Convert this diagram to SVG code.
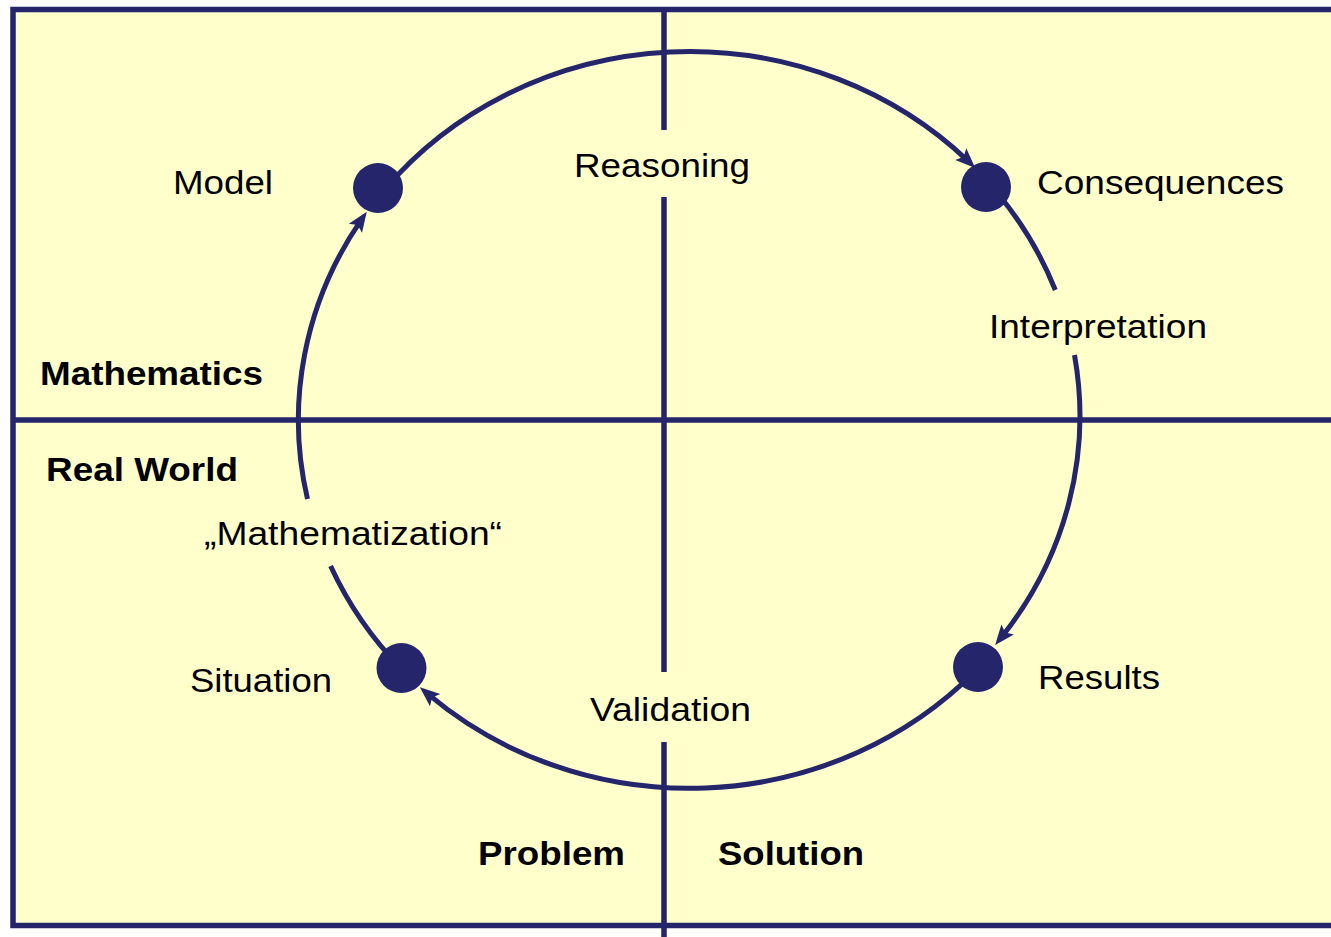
<svg xmlns="http://www.w3.org/2000/svg" width="1331" height="937" viewBox="0 0 1331 937">
  <style>
    .frame { fill: #FFFFCC; stroke: #25256B; stroke-width: 5.5; }
    .axis { stroke: #25256B; stroke-width: 5.5; fill: none; }
    .cycle { stroke: #25256B; stroke-width: 5; fill: none; }
    .dot { fill: #25256B; }
    text { font-family: "Liberation Sans", Arial, sans-serif; font-size: 34px; fill: #000; }
    .bold { font-weight: bold; }
  </style>
  <defs>
    <marker id="arrow" markerUnits="userSpaceOnUse" markerWidth="22" markerHeight="16" viewBox="0 0 22 16" refX="10" refY="8" orient="auto" overflow="visible">
      <path d="M0,0 L20,8 L0,16 L4,8 z" fill="#25256B"/>
    </marker>
  </defs>

  <!-- background panel and quadrant axes -->
  <g id="panel">
    <rect class="frame" x="13" y="9.5" width="1340" height="916"/>
    <line class="axis" x1="13" y1="420" x2="1331" y2="420"/>
    <line class="axis" x1="664" y1="9.5" x2="664" y2="130"/>
    <line class="axis" x1="664" y1="197" x2="664" y2="672"/>
    <line class="axis" x1="664" y1="742" x2="664" y2="937"/>
  </g>

  <!-- cycle connectors -->
  <g id="connectors">
    <path id="reasoning-arc" class="cycle" d="M385,189 A391,368 0 0 1 968,161" marker-end="url(#arrow)"/>
    <path id="interpretation-arc-a" class="cycle" d="M999,195 A391,368 0 0 1 1055.3,290"/>
    <path id="interpretation-arc-b" class="cycle" d="M1074.5,355 A391,368 0 0 1 1001.4,637.3" marker-end="url(#arrow)"/>
    <path id="validation-arc" class="cycle" d="M975,671.5 A391,368 0 0 1 427.5,693.7" marker-end="url(#arrow)"/>
    <path id="mathematization-arc-a" class="cycle" d="M402,669.4 A391,368 0 0 1 330.6,566"/>
    <path id="mathematization-arc-b" class="cycle" d="M307.5,499 A391,368 0 0 1 361.1,220.1" marker-end="url(#arrow)"/>
  </g>

  <!-- cycle nodes -->
  <g id="model">
    <circle class="dot" cx="378" cy="188" r="25"/>
    <text x="173" y="194" textLength="100" lengthAdjust="spacingAndGlyphs">Model</text>
  </g>
  <g id="consequences">
    <circle class="dot" cx="986" cy="187" r="25"/>
    <text x="1037" y="194" textLength="247" lengthAdjust="spacingAndGlyphs">Consequences</text>
  </g>
  <g id="results">
    <circle class="dot" cx="978" cy="667" r="25"/>
    <text x="1038" y="689" textLength="122" lengthAdjust="spacingAndGlyphs">Results</text>
  </g>
  <g id="situation">
    <circle class="dot" cx="401.5" cy="668" r="25"/>
    <text x="190" y="692" textLength="142" lengthAdjust="spacingAndGlyphs">Situation</text>
  </g>

  <!-- step labels -->
  <g id="step-labels">
    <text x="574" y="177" textLength="176" lengthAdjust="spacingAndGlyphs">Reasoning</text>
    <text x="989" y="338" textLength="218" lengthAdjust="spacingAndGlyphs">Interpretation</text>
    <text x="590" y="721" textLength="161" lengthAdjust="spacingAndGlyphs">Validation</text>
    <text x="204" y="545" textLength="298" lengthAdjust="spacingAndGlyphs">„Mathematization“</text>
  </g>

  <!-- quadrant labels -->
  <g id="quadrant-labels">
    <text class="bold" x="40" y="385" textLength="223" lengthAdjust="spacingAndGlyphs">Mathematics</text>
    <text class="bold" x="46" y="481" textLength="192" lengthAdjust="spacingAndGlyphs">Real World</text>
    <text class="bold" x="478" y="865" textLength="147" lengthAdjust="spacingAndGlyphs">Problem</text>
    <text class="bold" x="718" y="865" textLength="146" lengthAdjust="spacingAndGlyphs">Solution</text>
  </g>
</svg>
